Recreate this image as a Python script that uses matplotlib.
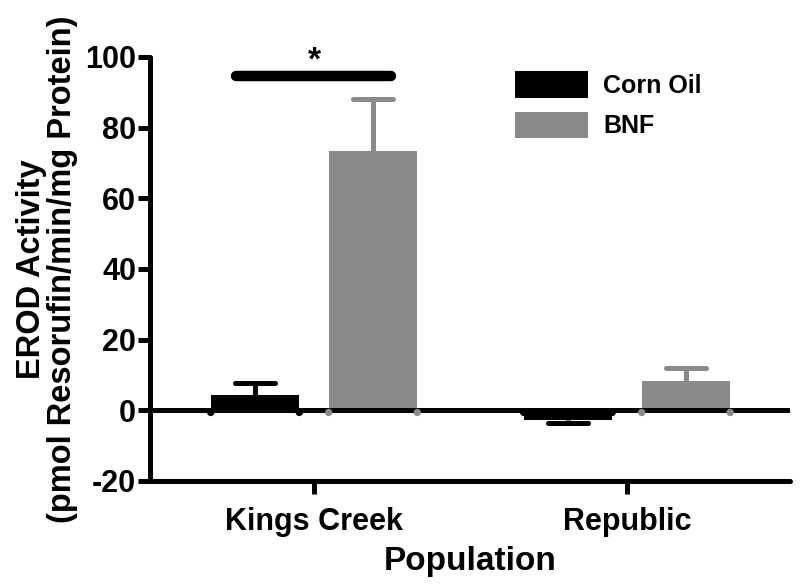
import matplotlib
matplotlib.use("Agg")
import matplotlib.pyplot as plt
import numpy as np
from matplotlib.patches import Patch

plt.rcParams['font.family'] = ['Liberation Sans', 'DejaVu Sans']
plt.rcParams['font.weight'] = 'bold'
plt.rcParams['axes.unicode_minus'] = False

populations = ["Kings Creek", "Republic"]
treatments = ["Corn Oil", "BNF"]
corn_oil = [4.2, -2.7]
corn_oil_err = [3.6, 0.8]
bnf = [73.5, 8.2]
bnf_err = [14.6, 3.8]
colors = ["#000000", "#8a8a8a"]
y_ticks = [-20, 0, 20, 40, 60, 80, 100]

fig = plt.figure(figsize=(8, 5.85), dpi=100)
ax = fig.add_axes([0.1875, 0.1778, 0.80, 0.7248])

x = np.arange(len(populations))
width = 0.283
offset = 0.1885
cap_half = 0.064

lw = 3.6
series = [(corn_oil, corn_oil_err, -offset, colors[0]),
          (bnf, bnf_err, offset, colors[1])]
for vals, errs, off, col in series:
    xs = x + off
    ax.bar(xs, vals, width=width, color=col, zorder=2)
    vals_a = np.array(vals)
    errs_a = np.array(errs)
    ends = vals_a + np.sign(vals_a) * errs_a
    ax.vlines(xs, vals_a, ends, color=col, lw=lw, zorder=2)
    ax.hlines(ends, xs - cap_half, xs + cap_half, color=col, lw=lw,
              zorder=2, capstyle='round')
    edges = np.concatenate([xs - width / 2, xs + width / 2])
    ax.scatter(edges, np.zeros_like(edges) - 0.6, s=28, color=col, zorder=4,
               edgecolors='none')

ax.axhline(0, color='black', lw=lw, zorder=3, solid_capstyle='butt')

# significance bar
ax.plot([x[0] - 0.25, x[0] + 0.245], [94.5, 94.5], color='black', lw=7.5,
        solid_capstyle='round', zorder=3)
ax.text(x[0], 94.5, "*", ha='center', va='bottom', fontsize=24,
        fontweight='bold')

ax.set_xlim(-0.524, 1.521)
ax.set_ylim(-20, 100)
ax.set_yticks(y_ticks)
ax.set_xticks(x)
ax.set_xticklabels(populations)

for s in ['top', 'right']:
    ax.spines[s].set_visible(False)
for s in ['left', 'bottom']:
    ax.spines[s].set_linewidth(lw)
    ax.spines[s].set_capstyle('round')
ax.tick_params(axis='both', width=lw, length=9, labelsize=22)
ax.tick_params(axis='x', pad=10)
ax.tick_params(axis='y', pad=1)

ax.set_ylabel("EROD Activity\n(pmol Resorufin/min/mg Protein)", fontsize=23.5,
              fontweight='bold', linespacing=1.0, labelpad=5)
ax.set_xlabel("Population", fontsize=24, fontweight='bold', labelpad=6)

handles = [Patch(facecolor=colors[0]), Patch(facecolor=colors[1])]
leg = ax.legend(handles, treatments, loc='upper left',
                bbox_to_anchor=(0.555, 0.99), frameon=False, fontsize=18,
                handlelength=2.9, handleheight=1.25, handletextpad=0.62,
                labelspacing=0.55, borderaxespad=0.0)

fig.savefig("out.png", dpi=100)
